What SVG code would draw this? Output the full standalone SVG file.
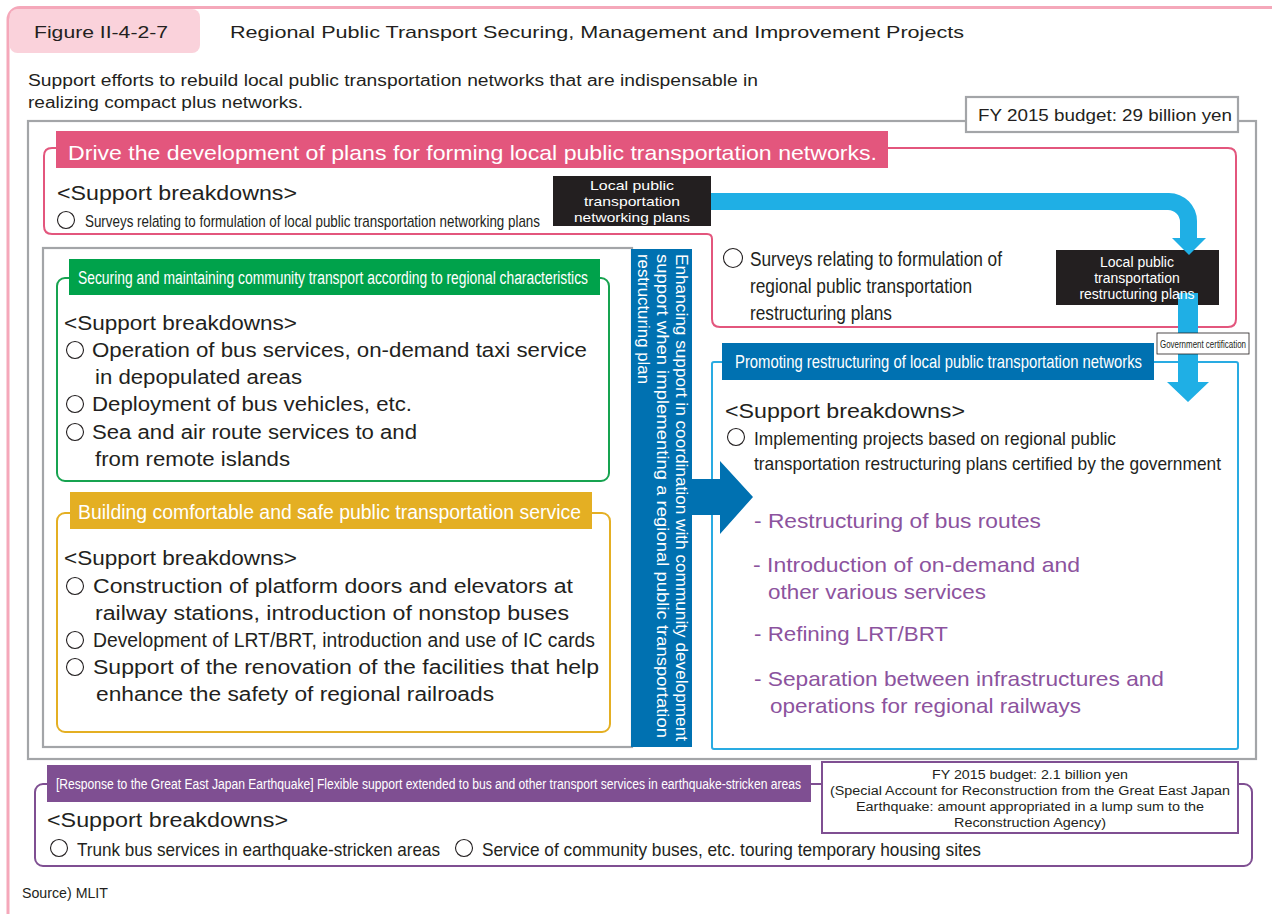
<svg xmlns="http://www.w3.org/2000/svg" width="1272" height="914" viewBox="0 0 1272 914">
<style>
.t{font-family:"Liberation Sans",Arial,Helvetica,sans-serif;fill:#231f20}
.w{fill:#ffffff}
.p{fill:#8c539e}
.c{fill:#ffffff;stroke:#231f20;stroke-width:1.1}
.grey{fill:none;stroke:#a3a5a8;stroke-width:2.2}
</style>
<rect width="1272" height="914" fill="#ffffff"/>

<g id="frame">
<rect x="8" y="7.5" width="1300" height="960" rx="12" fill="none" stroke="#f5a8ba" stroke-width="3"/>
<rect x="9.5" y="9" width="190.5" height="44" rx="8" fill="#fad2db"/>
<text class="t" x="34" y="38" font-size="17" textLength="134" lengthAdjust="spacingAndGlyphs">Figure II-4-2-7</text>
<text class="t" x="230" y="38" font-size="17" textLength="734" lengthAdjust="spacingAndGlyphs">Regional Public Transport Securing, Management and Improvement Projects</text>
<text class="t" x="28" y="86" font-size="16" textLength="730" lengthAdjust="spacingAndGlyphs">Support efforts to rebuild local public transportation networks that are indispensable in</text>
<text class="t" x="28" y="108" font-size="16" textLength="275" lengthAdjust="spacingAndGlyphs">realizing compact plus networks.</text>
</g>

<g id="main-panel">
<rect class="grey" x="28" y="121" width="1228" height="638"/>
<rect x="966" y="97" width="272" height="35" fill="#ffffff" stroke="#a3a5a8" stroke-width="2.2"/>
<text class="t" x="978" y="121" font-size="17" textLength="254" lengthAdjust="spacingAndGlyphs">FY 2015 budget: 29 billion yen</text>
</g>

<g id="plan-development">
<path d="M44,226 V156 Q44,148 52,148 H1228 Q1236,148 1236,156 V319 Q1236,327 1228,327 H720 Q712,327 712,319 V239 Q712,234 707,234 H52 Q44,234 44,226 Z" fill="none" stroke="#e3567d" stroke-width="2"/>
<rect x="56" y="131" width="832" height="37" fill="#e3567d"/>
<text class="t w" x="68" y="160" font-size="21" textLength="809" lengthAdjust="spacingAndGlyphs">Drive the development of plans for forming local public transportation networks.</text>
<text class="t" x="57" y="200" font-size="20" textLength="240" lengthAdjust="spacingAndGlyphs">&lt;Support breakdowns&gt;</text>
<circle class="c" cx="66" cy="220" r="8.5"/>
<text class="t" x="85" y="227" font-size="17" textLength="455" lengthAdjust="spacingAndGlyphs">Surveys relating to formulation of local public transportation networking plans</text>
<circle class="c" cx="733" cy="258" r="9.5"/>
<text class="t" x="750" y="266" font-size="20" textLength="252" lengthAdjust="spacingAndGlyphs">Surveys relating to formulation of</text>
<text class="t" x="750" y="293" font-size="20" textLength="222" lengthAdjust="spacingAndGlyphs">regional public transportation</text>
<text class="t" x="750" y="320" font-size="20" textLength="142" lengthAdjust="spacingAndGlyphs">restructuring plans</text>
</g>

<g id="networking-plans">
<rect x="553" y="176" width="158" height="50" fill="#231f20"/>
<text class="t w" x="632" y="190" font-size="13.5" text-anchor="middle" textLength="84" lengthAdjust="spacingAndGlyphs">Local public</text>
<text class="t w" x="632" y="206" font-size="13.5" text-anchor="middle" textLength="96" lengthAdjust="spacingAndGlyphs">transportation</text>
<text class="t w" x="632" y="222" font-size="13.5" text-anchor="middle" textLength="116" lengthAdjust="spacingAndGlyphs">networking plans</text>
</g>

<g id="restructuring-plans">
<rect x="1056" y="250" width="163" height="55" fill="#231f20"/>
</g>

<g id="left-panel">
<rect class="grey" x="43" y="248" width="589" height="499"/>
</g>

<g id="community-transport">
<rect x="57" y="278" width="552" height="203" rx="8" fill="none" stroke="#17a350" stroke-width="2"/>
<rect x="69" y="259" width="531" height="36" fill="#00a24b"/>
<text class="t w" x="78" y="284" font-size="18" textLength="510" lengthAdjust="spacingAndGlyphs">Securing and maintaining community transport according to regional characteristics</text>
<text class="t" x="64" y="330" font-size="20" textLength="233" lengthAdjust="spacingAndGlyphs">&lt;Support breakdowns&gt;</text>
<circle class="c" cx="75" cy="350" r="8.5"/>
<text class="t" x="92" y="357" font-size="20" textLength="495" lengthAdjust="spacingAndGlyphs">Operation of bus services, on-demand taxi service</text>
<text class="t" x="95" y="384" font-size="20" textLength="207" lengthAdjust="spacingAndGlyphs">in depopulated areas</text>
<circle class="c" cx="75" cy="404" r="8.5"/>
<text class="t" x="92" y="411" font-size="20" textLength="320" lengthAdjust="spacingAndGlyphs">Deployment of bus vehicles, etc.</text>
<circle class="c" cx="75" cy="432" r="8.5"/>
<text class="t" x="92" y="439" font-size="20" textLength="325" lengthAdjust="spacingAndGlyphs">Sea and air route services to and</text>
<text class="t" x="95" y="466" font-size="20" textLength="195" lengthAdjust="spacingAndGlyphs">from remote islands</text>
</g>

<g id="comfortable-safe">
<rect x="57" y="513" width="553" height="219" rx="8" fill="none" stroke="#e4af23" stroke-width="2"/>
<rect x="70" y="492" width="522" height="37" fill="#e4af23"/>
<text class="t w" x="78" y="519" font-size="20" textLength="503" lengthAdjust="spacingAndGlyphs">Building comfortable and safe public transportation service</text>
<text class="t" x="64" y="565" font-size="20" textLength="233" lengthAdjust="spacingAndGlyphs">&lt;Support breakdowns&gt;</text>
<circle class="c" cx="75" cy="586" r="8.5"/>
<text class="t" x="93" y="593" font-size="20" textLength="480" lengthAdjust="spacingAndGlyphs">Construction of platform doors and elevators at</text>
<text class="t" x="95" y="620" font-size="20" textLength="474" lengthAdjust="spacingAndGlyphs">railway stations, introduction of nonstop buses</text>
<circle class="c" cx="75" cy="640" r="8.5"/>
<text class="t" x="93" y="647" font-size="20" textLength="502" lengthAdjust="spacingAndGlyphs">Development of LRT/BRT, introduction and use of IC cards</text>
<circle class="c" cx="75" cy="667" r="8.5"/>
<text class="t" x="93" y="674" font-size="20" textLength="506" lengthAdjust="spacingAndGlyphs">Support of the renovation of the facilities that help</text>
<text class="t" x="96" y="701" font-size="20" textLength="398" lengthAdjust="spacingAndGlyphs">enhance the safety of regional railroads</text>
</g>

<g id="coordination-bar">
<rect x="631" y="249" width="61" height="498" fill="#0071b1"/>
<text class="t w" font-size="16.5" transform="translate(676,254) rotate(90)" textLength="487" lengthAdjust="spacingAndGlyphs">Enhancing support in coordination with community development</text>
<text class="t w" font-size="16.5" transform="translate(657,254) rotate(90)" textLength="484" lengthAdjust="spacingAndGlyphs">support when implementing a regional public transportation</text>
<text class="t w" font-size="16.5" transform="translate(638,254) rotate(90)" textLength="130" lengthAdjust="spacingAndGlyphs">restructuring plan</text>
</g>

<g id="promoting-restructuring">
<rect x="712" y="362" width="526" height="387" rx="2" fill="none" stroke="#29abe2" stroke-width="2"/>
<rect x="722" y="343" width="432" height="37" fill="#0071b1"/>
<text class="t w" x="735" y="368" font-size="19" textLength="407" lengthAdjust="spacingAndGlyphs">Promoting restructuring of local public transportation networks</text>
<text class="t" x="725" y="418" font-size="20" textLength="240" lengthAdjust="spacingAndGlyphs">&lt;Support breakdowns&gt;</text>
<circle class="c" cx="736" cy="437" r="8.5"/>
<text class="t" x="754" y="445" font-size="19" textLength="362" lengthAdjust="spacingAndGlyphs">Implementing projects based on regional public</text>
<text class="t" x="754" y="470" font-size="19" textLength="467" lengthAdjust="spacingAndGlyphs">transportation restructuring plans certified by the government</text>
<text class="t p" x="754" y="528" font-size="21" textLength="287" lengthAdjust="spacingAndGlyphs">- Restructuring of bus routes</text>
<text class="t p" x="753" y="572" font-size="21" textLength="327" lengthAdjust="spacingAndGlyphs">- Introduction of on-demand and</text>
<text class="t p" x="768" y="599" font-size="21" textLength="218" lengthAdjust="spacingAndGlyphs">other various services</text>
<text class="t p" x="754" y="641" font-size="21" textLength="194" lengthAdjust="spacingAndGlyphs">- Refining LRT/BRT</text>
<text class="t p" x="754" y="686" font-size="21" textLength="410" lengthAdjust="spacingAndGlyphs">- Separation between infrastructures and</text>
<text class="t p" x="770" y="713" font-size="21" textLength="311" lengthAdjust="spacingAndGlyphs">operations for regional railways</text>
</g>

<g id="connectors">
<path d="M711,193 H1169 A28,28 0 0 1 1197,221 V238 H1206 L1189,255 L1172,238 H1180 V222 A12,12 0 0 0 1168,210 H711 Z" fill="#1fafe5"/>
<path d="M1178,293 H1198 V382 H1209 L1188,402 L1167,382 H1178 Z" fill="#1fafe5"/>
<path d="M692,479 H720 V461 L753,497 L720,534 V515 H692 Z" fill="#0071b1"/>
</g>

<g id="restructuring-plans-label">
<text class="t w" x="1137" y="267" font-size="14" text-anchor="middle">Local public</text>
<text class="t w" x="1137" y="283" font-size="14" text-anchor="middle">transportation</text>
<text class="t w" x="1137" y="299" font-size="14" text-anchor="middle">restructuring plans</text>
</g>

<g id="government-certification">
<rect x="1157" y="333" width="92" height="21" fill="#ffffff" stroke="#231f20" stroke-width="0.8"/>
<text class="t" x="1203" y="347.5" font-size="10" text-anchor="middle" textLength="86" lengthAdjust="spacingAndGlyphs">Government certification</text>
</g>

<g id="earthquake">
<rect x="35" y="784" width="1217" height="82" rx="8" fill="none" stroke="#7f4f92" stroke-width="2"/>
<rect x="47" y="765" width="764" height="37" fill="#7f4f92"/>
<text class="t w" x="56" y="789" font-size="14" textLength="745" lengthAdjust="spacingAndGlyphs">[Response to the Great East Japan Earthquake] Flexible support extended to bus and other transport services in earthquake-stricken areas</text>
<rect x="822" y="762" width="416" height="71" fill="#ffffff" stroke="#7f4f92" stroke-width="2"/>
<text class="t" x="1030" y="779" font-size="12.5" text-anchor="middle" textLength="196" lengthAdjust="spacingAndGlyphs">FY 2015 budget: 2.1 billion yen</text>
<text class="t" x="1030" y="795" font-size="12.5" text-anchor="middle" textLength="400" lengthAdjust="spacingAndGlyphs">(Special Account for Reconstruction from the Great East Japan</text>
<text class="t" x="1030" y="811" font-size="12.5" text-anchor="middle" textLength="348" lengthAdjust="spacingAndGlyphs">Earthquake: amount appropriated in a lump sum to the</text>
<text class="t" x="1030" y="827" font-size="12.5" text-anchor="middle" textLength="152" lengthAdjust="spacingAndGlyphs">Reconstruction Agency)</text>
<text class="t" x="47" y="827" font-size="20" textLength="241" lengthAdjust="spacingAndGlyphs">&lt;Support breakdowns&gt;</text>
<circle class="c" cx="59" cy="848" r="8.5"/>
<text class="t" x="77" y="856" font-size="19" textLength="363" lengthAdjust="spacingAndGlyphs">Trunk bus services in earthquake-stricken areas</text>
<circle class="c" cx="464" cy="848" r="8.5"/>
<text class="t" x="482" y="856" font-size="19" textLength="499" lengthAdjust="spacingAndGlyphs">Service of community buses, etc. touring temporary housing sites</text>
</g>

<g id="source">
<text class="t" x="22" y="898" font-size="14" fill="#3a3a3a" textLength="86" lengthAdjust="spacingAndGlyphs">Source) MLIT</text>
</g>
</svg>
